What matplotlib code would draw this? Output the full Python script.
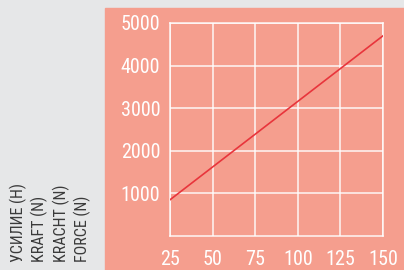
import matplotlib.pyplot as plt
from matplotlib.patches import Rectangle

# speed vs force
speed = [25, 150]
force = [850, 4700]
xticks = [25, 50, 75, 100, 125, 150]
yticks = [1000, 2000, 3000, 4000, 5000]
ylabel_lines = ["УСИЛИЕ (H)", "KRAFT (N)", "KRACHT (N)", "FORCE (N)"]

plt.rcParams['font.family'] = ['Roboto Condensed', 'DejaVu Sans']

fig = plt.figure(figsize=(4.04, 2.70), dpi=100)
fig.patch.set_facecolor('#e6e7e8')
panel = Rectangle((105 / 404, 0), 1, (270 - 8) / 270,
                  transform=fig.transFigure, color='#f59e8e', zorder=-1)
fig.add_artist(panel)

ax = fig.add_axes([170 / 404, 34 / 270, 213 / 404, 213 / 270])
ax.set_zorder(2)
ax.set_facecolor('none')
ax.plot(speed, force, color='#e8353c', lw=1.2, zorder=3)
ax.set_xlim(25, 150)
ax.set_ylim(0, 5000)
ax.set_xticks(xticks)
ax.set_yticks(yticks)
ax.grid(True, color='white', lw=1.1, alpha=0.9)
for s in ax.spines.values():
    s.set_color('white')
    s.set_linewidth(1.1)
    s.set_alpha(0.9)
ax.tick_params(length=0, colors='white', labelsize=14.5)
ax.tick_params(axis='y', pad=7)
ax.tick_params(axis='x', pad=10)

for i, t in enumerate(ylabel_lines):
    fig.text((18 + i * 21.5) / 404, 8 / 270, t, rotation=90, ha='center', va='bottom',
             fontsize=11.5, color='#3a3a3a')

fig.savefig('out.png', dpi=100, facecolor=fig.get_facecolor())
